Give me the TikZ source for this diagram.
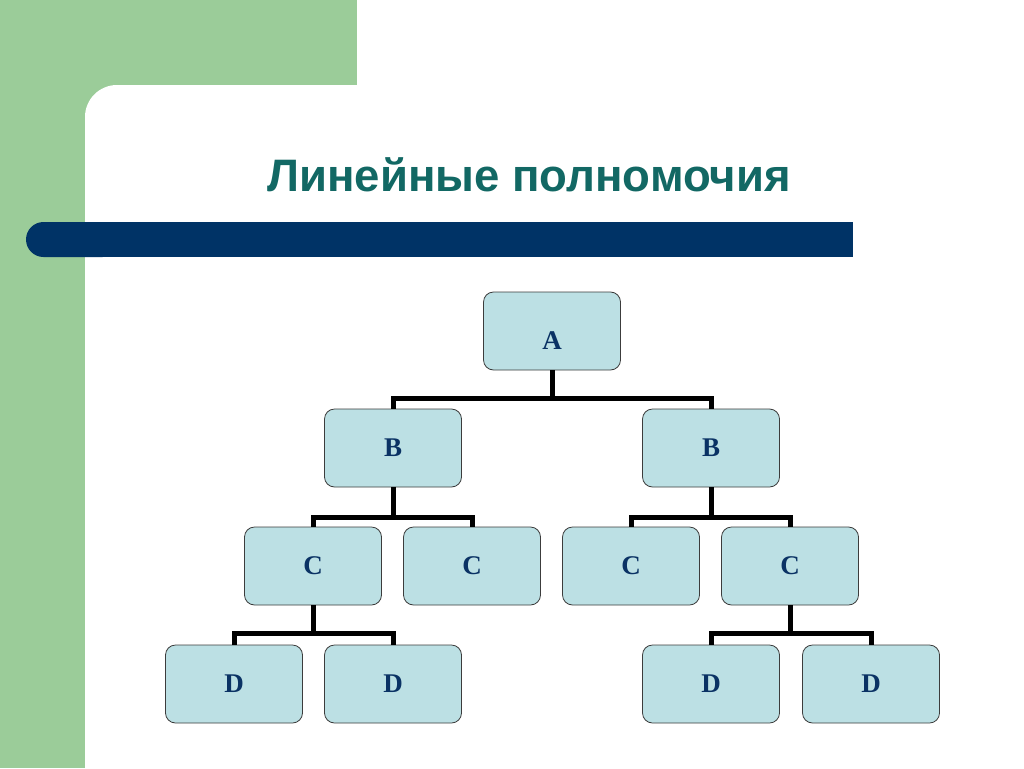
\documentclass[tikz,border=0pt]{standalone}
\usepackage{fontspec}
\setmainfont{Liberation Serif}
\newfontfamily\titlefont{Liberation Sans}
\definecolor{bggreen}{RGB}{155,204,153}
\definecolor{barblue}{RGB}{0,51,102}
\definecolor{titleteal}{RGB}{18,104,100}
\definecolor{boxfill}{RGB}{188,224,228}
\definecolor{boxdraw}{RGB}{60,60,60}
\definecolor{lettblue}{RGB}{10,50,100}
\begin{document}
\begin{tikzpicture}[x=1pt,y=-1pt,
  lett/.style={font=\fontsize{27}{27}\selectfont\bfseries, text=lettblue},
  box/.style={draw=boxdraw, line width=0.8pt, fill=boxfill, rounded corners=10pt,
    minimum width=137pt, minimum height=78pt, inner sep=0pt, lett},
  conn/.style={line width=5pt, black}]
\useasboundingbox (0,0) rectangle (1024,768);
% background
\fill[bggreen] (0,0) rectangle (1024,768);
\fill[white, rounded corners=32pt] (85,900) -- (85,85) -- (1100,85) -- (1100,900) -- cycle;
\fill[white] (357,0) rectangle (1024,85);
% bar
\fill[barblue, rounded corners=17.5pt] (26,222) rectangle (120,257);
\fill[barblue] (90,222) rectangle (853,257);
% title
\node[font=\titlefont\fontsize{45.5}{45.5}\selectfont\bfseries, text=titleteal] (title) at (529,175) {Линейные полномочия};
% nodes
\node[box] (A) at (552,331) {};
\node[lett] (Alab) at ([yshift=-10pt]A.center) {A};
\node[box] (B1) at (393,448) {B};
\node[box] (B2) at (711,448) {B};
\node[box] (C1) at (313,566) {C};
\node[box] (C2) at (472,566) {C};
\node[box] (C3) at (631,566) {C};
\node[box] (C4) at (790,566) {C};
\node[box] (D1) at (234,684) {D};
\node[box] (D2) at (393,684) {D};
\node[box] (D3) at (711,684) {D};
\node[box] (D4) at (871,684) {D};
% connectors
\draw[conn] (A.south) -- ++(0,28) -| (B1.north);
\draw[conn] (A.south) ++(0,28) -| (B2.north);
\draw[conn] (B1.south) -- ++(0,30) -| (C1.north);
\draw[conn] (B1.south) ++(0,30) -| (C2.north);
\draw[conn] (B2.south) -- ++(0,30) -| (C3.north);
\draw[conn] (B2.south) ++(0,30) -| (C4.north);
\draw[conn] (C1.south) -- ++(0,28) -| (D1.north);
\draw[conn] (C1.south) ++(0,28) -| (D2.north);
\draw[conn] (C4.south) -- ++(0,28) -| (D3.north);
\draw[conn] (C4.south) ++(0,28) -| (D4.north);
\end{tikzpicture}
\end{document}
